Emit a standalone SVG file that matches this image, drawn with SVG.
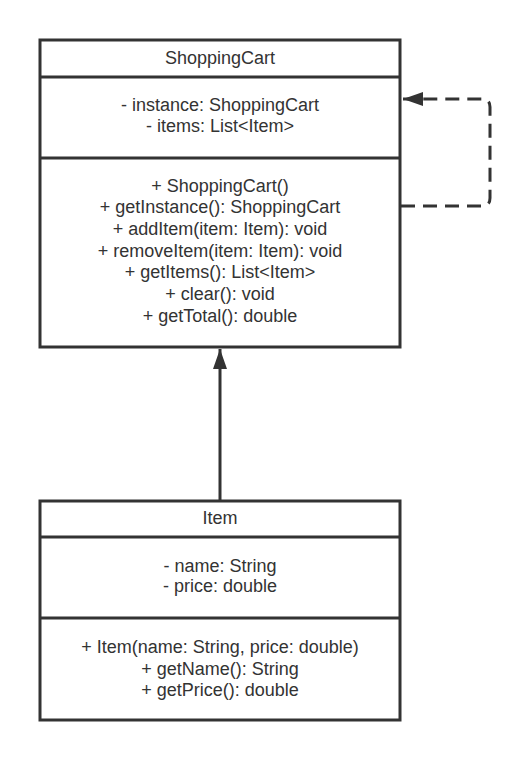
<svg xmlns="http://www.w3.org/2000/svg" width="530" height="761" viewBox="0 0 530 761">
<style>
.box{fill:#fff;stroke:#333;stroke-width:3}
.div{stroke:#333;stroke-width:3}
text{font-family:"Liberation Sans",Arial,sans-serif;font-size:18px;fill:#333;text-anchor:middle}
.conn{fill:none;stroke:#333;stroke-width:3}
</style>
<defs>
<marker id="ah" markerUnits="userSpaceOnUse" markerWidth="22" markerHeight="16" refX="20" refY="7" orient="auto">
<path d="M0,0 L20,7 L0,14 Z" fill="#333"/>
</marker>
</defs>
<rect width="530" height="761" fill="#fff"/>
<g id="connectors">
<path class="conn" d="M220,500 L220,349" marker-end="url(#ah)"/>
<path class="conn" stroke-dasharray="14 8" d="M401,206 L482,206 Q490,206 490,198 L490,107 Q490,99 482,99 L403,99" marker-end="url(#ah)"/>
</g>
<g id="ShoppingCart">
<rect class="box" x="40" y="40" width="360" height="307"/>
<line class="div" x1="40" y1="77" x2="400" y2="77"/>
<line class="div" x1="40" y1="158" x2="400" y2="158"/>
<text x="220" y="63.5">ShoppingCart</text>
<text x="220" y="111">- instance: ShoppingCart</text>
<text x="220" y="132">- items: List&lt;Item&gt;</text>
<text x="220" y="191.5">+ ShoppingCart()</text>
<text x="220" y="213.2">+ getInstance(): ShoppingCart</text>
<text x="220" y="234.9">+ addItem(item: Item): void</text>
<text x="220" y="256.6">+ removeItem(item: Item): void</text>
<text x="220" y="278.3">+ getItems(): List&lt;Item&gt;</text>
<text x="220" y="300">+ clear(): void</text>
<text x="220" y="321.7">+ getTotal(): double</text>
</g>
<g id="Item">
<rect class="box" x="40" y="501" width="360" height="219"/>
<line class="div" x1="40" y1="537" x2="400" y2="537"/>
<line class="div" x1="40" y1="618" x2="400" y2="618"/>
<text x="220" y="523.5">Item</text>
<text x="220" y="571.5">- name: String</text>
<text x="220" y="592">- price: double</text>
<text x="220" y="653">+ Item(name: String, price: double)</text>
<text x="220" y="674.7">+ getName(): String</text>
<text x="220" y="696">+ getPrice(): double</text>
</g>
</svg>
